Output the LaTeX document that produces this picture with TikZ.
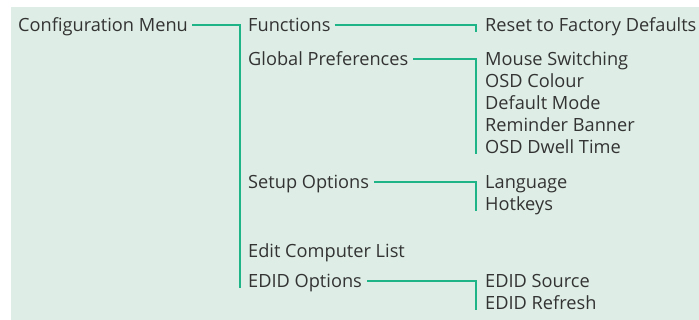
\documentclass[tikz,border=0pt]{standalone}
\usepackage{fontspec}
\setmainfont{Open Sans}
\definecolor{bgc}{HTML}{DEEEE6}
\definecolor{linec}{HTML}{1FB488}
\definecolor{txtc}{HTML}{333333}
\begin{document}
\begin{tikzpicture}[x=1pt,y=-1pt,
  lbl/.style={anchor=base west,inner sep=0pt,text=txtc,font=\fontsize{18.2}{21}\selectfont},
  conn/.style={draw=linec,line width=2pt}]
\useasboundingbox (0,0) rectangle (699,320);
\fill[bgc] (11,7) rectangle (699,320);
% column 1
\node[lbl] (cfg) at (18,32) {Configuration Menu};
% column 2
\node[lbl] (fun) at (248,32) {Functions};
\node[lbl] (glob) at (248,66) {Global Preferences};
\node[lbl] (setup) at (248,189) {Setup Options};
\node[lbl] (edit) at (248,258) {Edit Computer List};
\node[lbl] (edid) at (248,288) {EDID Options};
% column 3
\node[lbl] (reset) at (485,32) {Reset to Factory Defaults};
\node[lbl] (mouse) at (485,66) {Mouse Switching};
\node[lbl] (osdc) at (485,88) {OSD Colour};
\node[lbl] (defm) at (485,110) {Default Mode};
\node[lbl] (remb) at (485,132) {Reminder Banner};
\node[lbl] (osdd) at (485,154) {OSD Dwell Time};
\node[lbl] (lang) at (485,189) {Language};
\node[lbl] (hotk) at (485,211) {Hotkeys};
\node[lbl] (esrc) at (485,288) {EDID Source};
\node[lbl] (eref) at (485,310) {EDID Refresh};
% connectors
\draw[conn] ([xshift=4pt,yshift=7pt]cfg.base east) -| ([xshift=-8pt]edid.base west);
\draw[conn] ([xshift=4pt,yshift=7pt]fun.base east) -| ([xshift=-9pt]reset.base west);
\draw[conn] ([xshift=5pt,yshift=7pt]glob.base east) -| ([xshift=-9pt]osdd.base west);
\draw[conn] ([xshift=5pt,yshift=7pt]setup.base east) -| ([xshift=-9pt]hotk.base west);
\draw[conn] ([xshift=5pt,yshift=7pt]edid.base east) -| ([xshift=-9pt]eref.base west);
\end{tikzpicture}
\end{document}
